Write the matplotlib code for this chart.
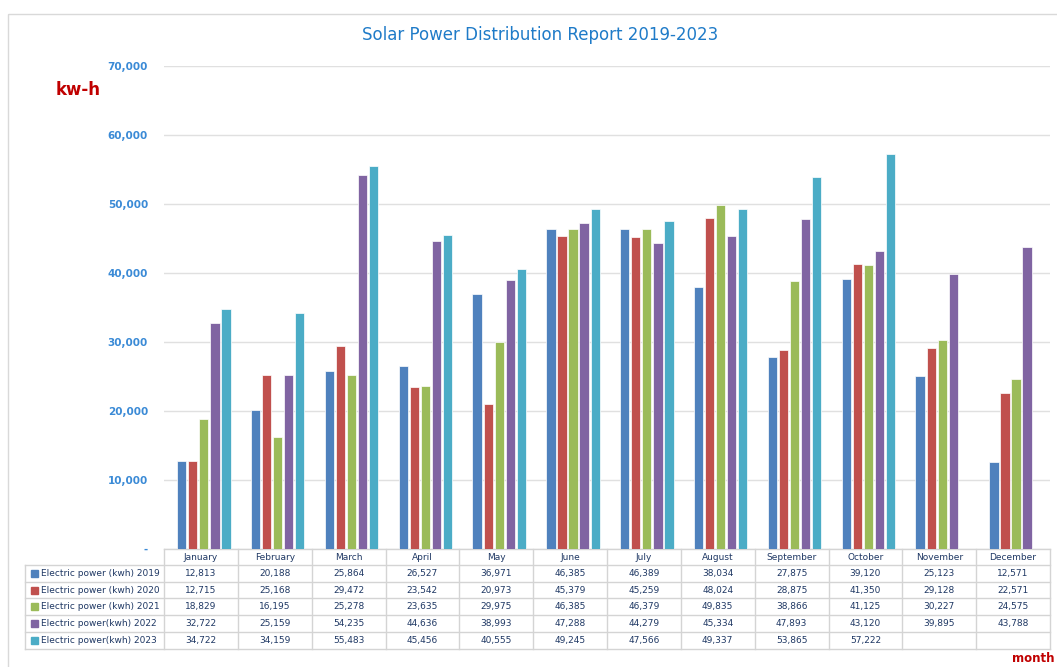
import numpy as np
import matplotlib.pyplot as plt
from matplotlib.patches import Rectangle

months = ["January", "February", "March", "April", "May", "June", "July",
          "August", "September", "October", "November", "December"]
series_names = ["Electric power (kwh) 2019", "Electric power (kwh) 2020",
                "Electric power (kwh) 2021", "Electric power(kwh) 2022",
                "Electric power(kwh) 2023"]
power_2019 = [12813, 20188, 25864, 26527, 36971, 46385, 46389, 38034, 27875, 39120, 25123, 12571]
power_2020 = [12715, 25168, 29472, 23542, 20973, 45379, 45259, 48024, 28875, 41350, 29128, 22571]
power_2021 = [18829, 16195, 25278, 23635, 29975, 46385, 46379, 49835, 38866, 41125, 30227, 24575]
power_2022 = [32722, 25159, 54235, 44636, 38993, 47288, 44279, 45334, 47893, 43120, 39895, 43788]
power_2023 = [34722, 34159, 55483, 45456, 40555, 49245, 47566, 49337, 53865, 57222, None, None]
colors = ["#4F81BD", "#C0504D", "#9BBB59", "#8064A2", "#4BACC6"]

all_series = [power_2019, power_2020, power_2021, power_2022, power_2023]

W, H = 1057, 667
fig = plt.figure(figsize=(W / 100, H / 100), dpi=100)

# layout in pixels (from top-left)
L, R, TOP, BOT = 164, 1050, 66, 549
colw = (R - L) / 12

# overlay axes in pixel coordinates for frame, table and labels
ov = fig.add_axes([0, 0, 1, 1])
ov.set_xlim(0, W)
ov.set_ylim(H, 0)
ov.axis("off")
ov.add_patch(Rectangle((8, 14), W, H, fill=False, edgecolor="#d9d9d9", lw=1))

ax = fig.add_axes([L / W, (H - BOT) / H, (R - L) / W, (BOT - TOP) / H])
ax.set_facecolor("none")
x = np.arange(len(months))
for i, (vals, c) in enumerate(zip(all_series, colors)):
    v = np.array([np.nan if a is None else a for a in vals], dtype=float)
    ax.bar(x + (i - 2) * 0.15 + 0.04, v, width=0.125, color=c,
           edgecolor="white", linewidth=0.5, zorder=3)

ax.set_xlim(-0.5, 11.5)
ax.set_ylim(0, 70000)
ax.set_yticks(np.arange(0, 70001, 10000))
ax.set_yticklabels(["-"] + [f"{t:,}" for t in range(10000, 70001, 10000)],
                   color="#3A8AD6", fontsize=7.5, fontweight="bold")
ax.tick_params(axis="y", length=0, pad=11.5)
ax.tick_params(axis="x", length=0, labelbottom=False)
ax.grid(axis="y", color="#e0e0e0", linewidth=1, zorder=0)
for s in ax.spines.values():
    s.set_visible(False)

# title and labels
ov.text(540, 35, "Solar Power Distribution Report 2019-2023", ha="center", va="center",
        fontsize=12, color="#1F7BC8")
ov.text(78, 90, "kw-h", ha="center", va="center", fontsize=12, fontweight="bold",
        color="#C00000", family=["Liberation Sans Narrow", "DejaVu Sans"])
ov.text(1033, 659, "month", ha="center", va="center", fontsize=8.5, fontweight="bold",
        color="#C00000")

# data table
line_c = "#d4d4d4"
txt_c = "#1F3864"
row_h = 16.7
hdr_top, hdr_bot = BOT, BOT + 16
rows_top = [hdr_bot + k * row_h for k in range(len(all_series) + 1)]
tbl_bot = rows_top[-1]
lab_left = 25

# horizontal lines
ov.plot([L, R], [hdr_top, hdr_top], color=line_c, lw=1)
for yy in rows_top:
    ov.plot([lab_left, R], [yy, yy], color=line_c, lw=1)
# vertical lines
ov.plot([lab_left, lab_left], [hdr_bot, tbl_bot], color=line_c, lw=1)
for k in range(13):
    xx = L + k * colw
    ov.plot([xx, xx], [hdr_top, tbl_bot], color=line_c, lw=1)

for k, m in enumerate(months):
    ov.text(L + (k + 0.5) * colw, (hdr_top + hdr_bot) / 2, m, ha="center", va="center",
            fontsize=6.5, color=txt_c)

for r, (name, vals, c) in enumerate(zip(series_names, all_series, colors)):
    yc = rows_top[r] + row_h / 2
    ov.add_patch(Rectangle((31, yc - 3.5), 7, 7, color=c))
    ov.text(41, yc, name, ha="left", va="center", fontsize=6.5, color=txt_c)
    for k, v in enumerate(vals):
        if v is not None:
            ov.text(L + (k + 0.5) * colw, yc, f"{v:,}", ha="center", va="center",
                    fontsize=6.5, color=txt_c)

plt.savefig("out.png", dpi=100)
